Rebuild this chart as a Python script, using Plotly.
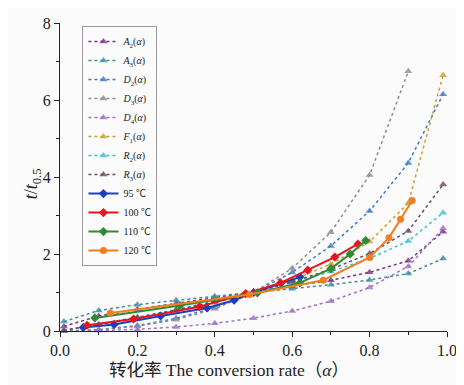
import plotly.graph_objects as go

# ---------------- data ----------------
alpha_model = [0.01, 0.1, 0.2, 0.3, 0.4, 0.5, 0.6, 0.7, 0.8, 0.9, 0.99]
A2 = [0.120, 0.390, 0.567, 0.717, 0.858, 1.000, 1.150, 1.318, 1.524, 1.823, 2.578]
A3 = [0.244, 0.534, 0.685, 0.801, 0.903, 1.000, 1.097, 1.202, 1.324, 1.492, 1.880]
D2 = [0.000, 0.034, 0.140, 0.328, 0.610, 1.000, 1.522, 2.208, 3.116, 4.365, 6.152]
D3 = [0.000, 0.028, 0.121, 0.295, 0.576, 1.000, 1.627, 2.567, 4.050, 6.744]
D4 = [0.000, 0.011, 0.044, 0.105, 0.199, 0.333, 0.519, 0.774, 1.133, 1.677, 2.667]
F1 = [0.015, 0.152, 0.322, 0.515, 0.737, 1.000, 1.322, 1.737, 2.322, 3.322, 6.644]
R2 = [0.017, 0.175, 0.360, 0.558, 0.770, 1.000, 1.255, 1.544, 1.887, 2.335, 3.073]
R3 = [0.016, 0.167, 0.348, 0.543, 0.759, 1.000, 1.276, 1.602, 2.013, 2.597, 3.803]

alpha_95 = [0.06, 0.14, 0.26, 0.38, 0.45, 0.50, 0.62]
t_95 = [0.09, 0.17, 0.39, 0.60, 0.80, 1.00, 1.40]
alpha_100 = [0.07, 0.19, 0.36, 0.48, 0.57, 0.64, 0.71, 0.77]
t_100 = [0.15, 0.31, 0.63, 0.97, 1.25, 1.58, 1.92, 2.26]
alpha_110 = [0.09, 0.31, 0.51, 0.62, 0.70, 0.75, 0.79]
t_110 = [0.34, 0.66, 0.99, 1.25, 1.62, 2.00, 2.35]
alpha_120 = [0.13, 0.49, 0.68, 0.80, 0.85, 0.88, 0.91]
t_120 = [0.47, 0.95, 1.32, 1.91, 2.42, 2.90, 3.39]

x_ticks = [0.0, 0.2, 0.4, 0.6, 0.8, 1.0]
x_ticklabels = ["0.0", "0.2", "0.4", "0.6", "0.8", "1.0"]
y_ticks = [0, 2, 4, 6, 8]

x_title = "转化率 The conversion rate（<i>α</i>）"
y_title = "<i>t</i>/<i>t</i><sub>0.5</sub>"

models = [
    ("<i>A</i><sub>2</sub>(<i>α</i>)", A2, "#7E2F8E"),
    ("<i>A</i><sub>3</sub>(<i>α</i>)", A3, "#3E8E9E"),
    ("<i>D</i><sub>2</sub>(<i>α</i>)", D2, "#3C7CC4"),
    ("<i>D</i><sub>3</sub>(<i>α</i>)", D3, "#8C8C98"),
    ("<i>D</i><sub>4</sub>(<i>α</i>)", D4, "#9E72C8"),
    ("<i>F</i><sub>1</sub>(<i>α</i>)", F1, "#C8A032"),
    ("<i>R</i><sub>2</sub>(<i>α</i>)", R2, "#40C0D0"),
    ("<i>R</i><sub>3</sub>(<i>α</i>)", R3, "#6E4A5E"),
]
experiments = [
    ("95 ℃", alpha_95, t_95, "#1F3FBF", "diamond"),
    ("100 ℃", alpha_100, t_100, "#E8141E", "diamond"),
    ("110 ℃", alpha_110, t_110, "#2E8B35", "diamond"),
    ("120 ℃", alpha_120, t_120, "#F07F1E", "circle"),
]

SERIF = "Liberation Serif"
SERIF_CJK = "Liberation Serif, Noto Sans CJK SC"

fig = go.Figure()
for name, ys, col in models:
    fig.add_trace(go.Scatter(
        x=alpha_model[:len(ys)], y=ys, name=name, mode="lines+markers",
        line=dict(color=col, width=1.5, dash="dot"),
        marker=dict(symbol="triangle-up", size=7, color=col, opacity=0.8,
                    line=dict(width=0)),
        cliponaxis=False,
    ))
for name, xs, ys, col, sym in experiments:
    fig.add_trace(go.Scatter(
        x=xs, y=ys, name=name, mode="lines+markers",
        line=dict(color=col, width=2),
        marker=dict(symbol=sym, size=7, color=col),
        cliponaxis=False,
    ))

bg = "#fbfbfb"
fig.update_layout(
    width=456, height=377,
    margin=dict(l=52, r=12, t=7, b=54),
    paper_bgcolor=bg, plot_bgcolor=bg,
    font=dict(family=SERIF_CJK, size=13, color="#222"),
    showlegend=True,
    legend=dict(
        x=0.058, y=0.99, xanchor="left", yanchor="top",
        bgcolor=bg, bordercolor="#999", borderwidth=1,
        font=dict(family=SERIF_CJK, size=10, color="#222"),
        itemwidth=30, tracegroupgap=0,
    ),
    xaxis=dict(
        range=[0, 1.0], tickvals=x_ticks, ticktext=x_ticklabels,
        showgrid=False, zeroline=False, showline=True, linecolor="#222",
        linewidth=1.2, ticks="outside", ticklen=5, tickcolor="#222",
        minor=dict(dtick=0.1, ticks="outside", ticklen=3, tickcolor="#222"),
        tickfont=dict(family=SERIF, size=16), ticklabeloverflow="allow",
    ),
    yaxis=dict(
        range=[0, 8], tickvals=y_ticks,
        showgrid=False, zeroline=False, showline=True, linecolor="#222",
        linewidth=1.2, ticks="outside", ticklen=5, tickcolor="#222",
        minor=dict(dtick=1, ticks="outside", ticklen=3, tickcolor="#222"),
        tickfont=dict(family=SERIF, size=16), ticklabeloverflow="allow",
    ),
    annotations=[
        dict(text=x_title, xref="paper", yref="paper", x=0.436, y=-0.127,
             xanchor="center", yanchor="middle", showarrow=False,
             font=dict(family=SERIF_CJK, size=17.5, color="#222")),
        dict(text=y_title, xref="paper", yref="paper", x=-0.071, y=0.478,
             xanchor="center", yanchor="middle", showarrow=False, textangle=-90,
             font=dict(family=SERIF, size=18, color="#222")),
    ],
)

fig.write_html("out.html")
